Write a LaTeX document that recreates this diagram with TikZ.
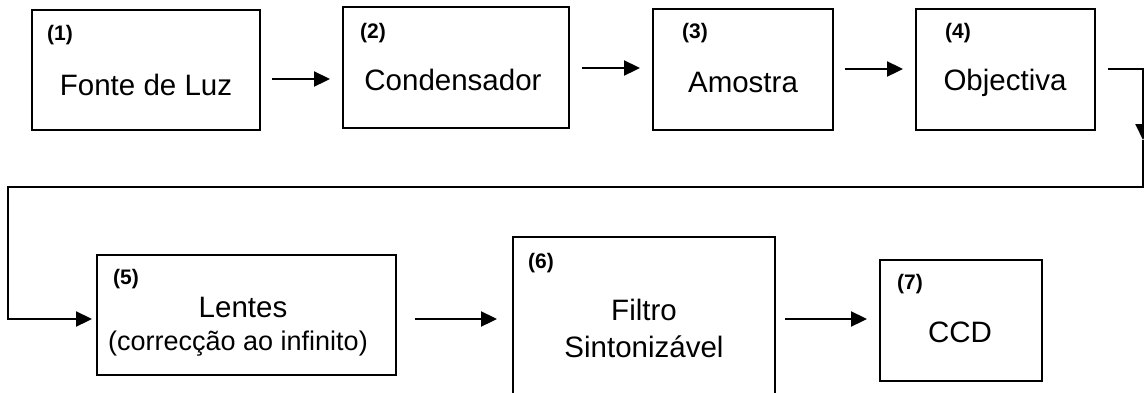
\documentclass[tikz,border=0pt]{standalone}
\usepackage{fontspec}
\setmainfont{Liberation Sans}
\usetikzlibrary{arrows.meta}

\tikzset{
  stage/.style={draw=black, line width=1.9pt, rectangle, inner sep=0pt},
  title/.style={anchor=base, inner sep=0pt, font=\fontsize{29.5}{34}\selectfont},
  subtitle/.style={anchor=base, inner sep=0pt, font=\fontsize{27}{31}\selectfont},
  tag/.style={anchor=base west, inner sep=0pt, font=\bfseries\fontsize{21}{25}\selectfont},
  flow/.style={line width=2pt, -{Triangle[length=16pt,width=15pt]}},
  link/.style={line width=2pt}
}

\begin{document}
\begin{tikzpicture}[x=1pt, y=-1pt]
  \useasboundingbox (0,0) rectangle (1144,392);
  \begin{scope}
  \clip (0,0) rectangle (1144,392);

  % stage boxes
  \node[stage, minimum width=228pt, minimum height=120pt] (b1) at (146,70) {};
  \node[stage, minimum width=226pt, minimum height=121pt] (b2) at (456,67.5) {};
  \node[stage, minimum width=180pt, minimum height=121pt] (b3) at (743,69.5) {};
  \node[stage, minimum width=179pt, minimum height=121pt] (b4) at (1005.5,69.5) {};
  \node[stage, minimum width=299pt, minimum height=120pt] (b5) at (246.5,315) {};
  \node[stage, minimum width=262pt, minimum height=170pt] (b6) at (644,322) {};
  \node[stage, minimum width=162pt, minimum height=121pt] (b7) at (961,320.5) {};

  % numbers
  \node[tag] (l1) at (47,40) {(1)};
  \node[tag] (l2) at (360,38) {(2)};
  \node[tag] (l3) at (682,38) {(3)};
  \node[tag] (l4) at (945,38) {(4)};
  \node[tag] (l5) at (113,284) {(5)};
  \node[tag] (l6) at (528,268) {(6)};
  \node[tag] (l7) at (897,289) {(7)};

  % names
  \node[title] (t1) at (146,95) {Fonte de Luz};
  \node[title] (t2) at (453,90) {Condensador};
  \node[title] (t3) at (743,92) {Amostra};
  \node[title] (t4) at (1005,90) {Objectiva};
  \node[title] (t5) at (243,317) {Lentes};
  \node[subtitle] (s5) at (238,350) {(correcção ao infinito)};
  \node[title] (t6) at (644,320) {Filtro};
  \node[title] (s6) at (644,357) {Sintonizável};
  \node[title] (t7) at (960,342) {CCD};

  % connectors
  \draw[flow, shorten <=11pt, shorten >=12pt] (b1.east |- 0,79) -- (b2.west |- 0,79);
  \draw[flow, shorten <=12pt, shorten >=12pt] (b2.east |- 0,68) -- (b3.west |- 0,68);
  \draw[flow, shorten <=11pt, shorten >=12pt] (b3.east |- 0,69) -- (b4.west |- 0,69);

  \coordinate (r1) at (1143,69);
  \coordinate (r2) at (1143,140);
  \coordinate (r3) at (1143,187);
  \coordinate (r4) at (8,187);
  \draw[flow, shorten <=12pt] (b4.east |- r1) -- (r1) -- (r2);
  \draw[flow, shorten >=4pt] (r2) -- (r3) -- (r4) -- (r4 |- 0,319) -- (b5.west |- 0,319);

  \draw[flow, shorten <=18pt, shorten >=15pt] (b5.east |- 0,319) -- (b6.west |- 0,319);
  \draw[flow, shorten <=9pt, shorten >=12pt] (b6.east |- 0,319) -- (b7.west |- 0,319);
  \end{scope}
\end{tikzpicture}
\end{document}
